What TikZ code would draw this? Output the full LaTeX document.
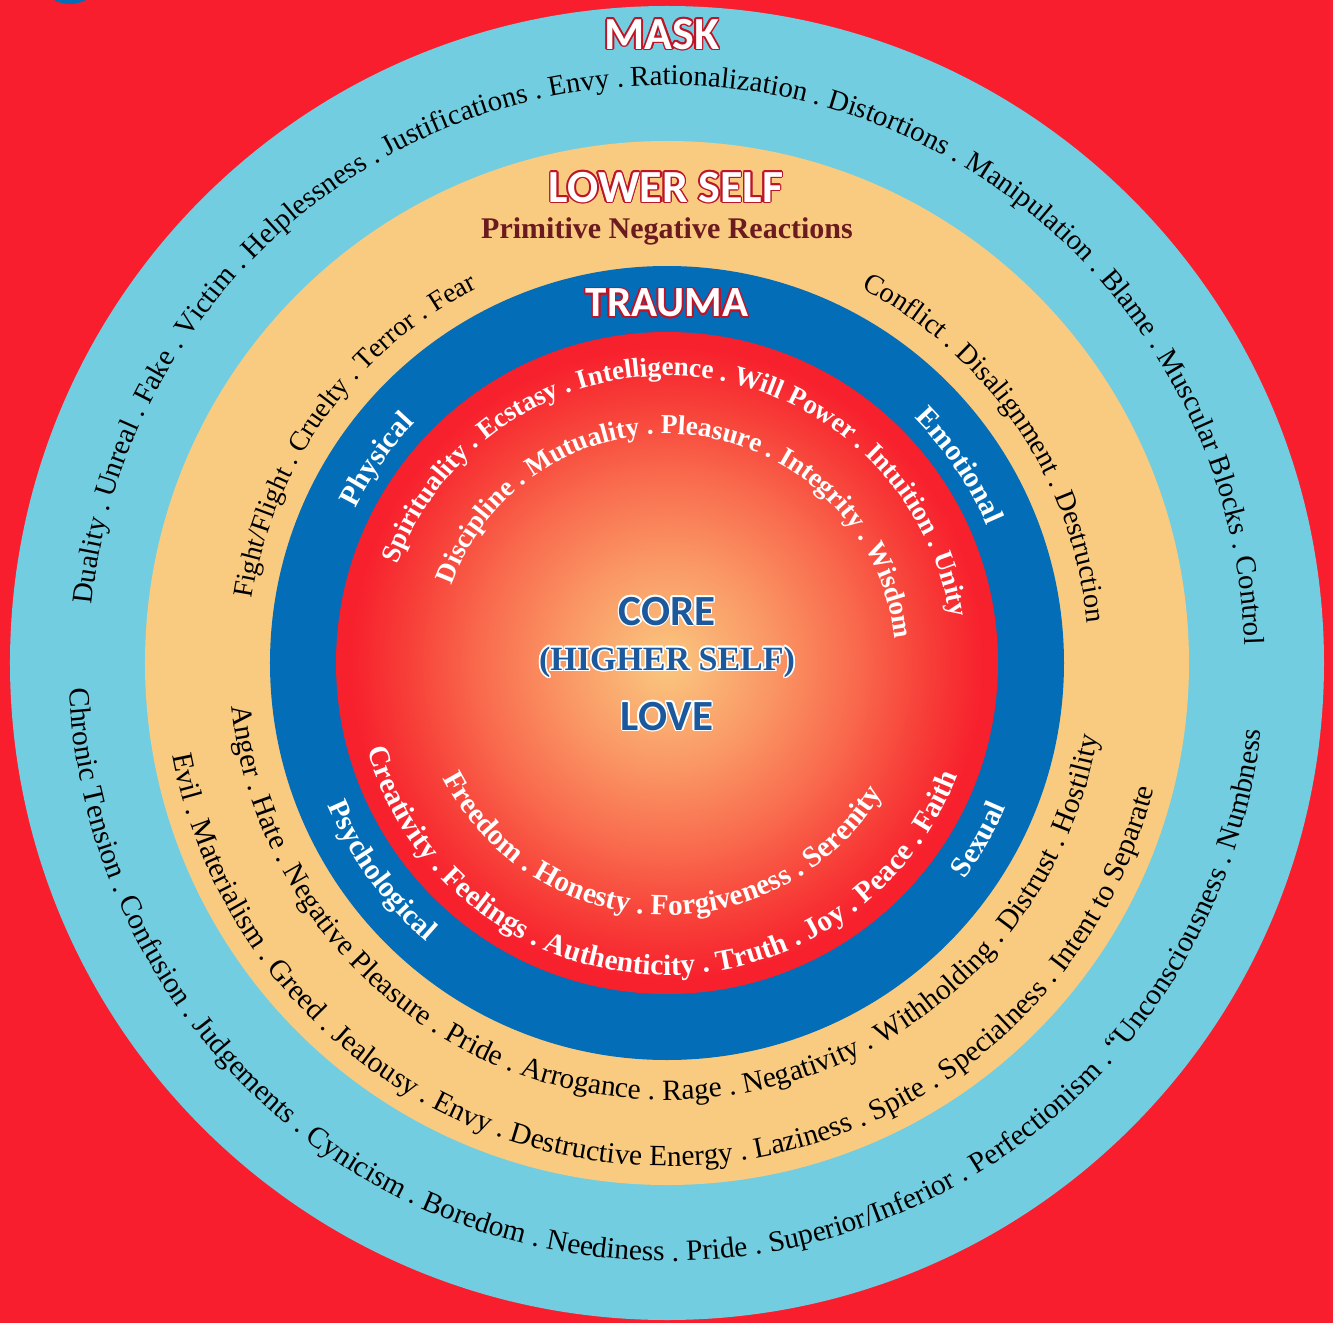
\documentclass[tikz,border=0pt]{standalone}
\usepackage{fontspec}
\setmainfont{Liberation Serif}
\newfontfamily\titlefont{Carlito}
\usepackage{contour}
\contourlength{0.8pt}
\contournumber{12}
\usetikzlibrary{decorations.text}

\definecolor{bgred}{RGB}{248,30,45}
\definecolor{maskblue}{RGB}{114,205,224}
\definecolor{lowertan}{RGB}{249,203,128}
\definecolor{traumablue}{RGB}{3,109,183}
\definecolor{coreinner}{RGB}{250,200,128}
\definecolor{corewarm}{RGB}{250,150,100}
\definecolor{coremid}{RGB}{249,108,78}
\definecolor{corehot}{RGB}{247,60,55}
\definecolor{coreedge}{RGB}{247,32,45}
\definecolor{shadowred}{RGB}{190,20,40}
\definecolor{primitivered}{RGB}{107,26,31}
\definecolor{corenavy}{RGB}{28,88,156}

% the circle's radius is 25bp of the shading
\pgfdeclareradialshading{coreglow}{\pgfpoint{0bp}{0bp}}{color(0bp)=(coreinner); color(8bp)=(corewarm); color(14bp)=(coremid); color(20bp)=(corehot); color(24bp)=(coreedge); color(50bp)=(coreedge)}

\tikzset{
  ringtext/.style 2 args={decorate, decoration={text along path, text align=center, text={|\fontsize{#1}{16}\selectfont|#2}}},
  coretext/.style 2 args={decorate, decoration={text along path, text align=center, text color=white, text={|\bfseries\fontsize{#1}{16}\selectfont|#2}}},
  title/.style={text=white, font=\titlefont\bfseries\fontsize{23}{25}\selectfont},
  heart/.style={text=corenavy, font=\titlefont\bfseries\fontsize{21.5}{24}\selectfont}
}

\begin{document}
\begin{tikzpicture}[x=0.5pt, y=0.5pt]
  \path[use as bounding box, fill=bgred] (-667,-660) rectangle (666,663);
  \fill[traumablue] (-597,693) circle[radius=34];

  % rings
  \coordinate (core) at (0,0);
  \fill[maskblue] (core) circle[radius=657];
  \fill[lowertan] (core) circle[radius=522];
  \fill[traumablue] (core) circle[radius=397];
  \shade[shading=coreglow] (core) circle[radius=331];

  % mask
  \node[title] (mask) at (-5,628) {\contour{shadowred}{MASK}};
  \path[ringtext={14.4}{Duality . Unreal . Fake . Victim . Helplessness . Justifications . Envy . Rationalization . Distortions . Manipulation . Blame . Muscular Blocks . Control}]
    (183:578) arc[start angle=183, end angle=-7, radius=578];
  \path[ringtext={14.7}{Chronic Tension . Confusion . Judgements . Cynicism . Boredom . Neediness . Pride . Superior/Inferior . Perfectionism . “Unconsciousness . Numbness}]
    (173:598) arc[start angle=173, end angle=363, radius=598];

  % lower self
  \node[title] (lower) at (-1,475) {\contour{shadowred}{LOWER SELF}};
  \node[text=primitivered, font=\bfseries\fontsize{15}{17}\selectfont] (reactions) at (0,432) {Primitive Negative Reactions};
  \path[ringtext={13.9}{Fight/Flight . Cruelty . Terror . Fear}]
    (194:420) arc[start angle=194, end angle=94, radius=420];
  \path[ringtext={14.2}{Conflict . Disalignment . Destruction}]
    (84:422) arc[start angle=84, end angle=-16, radius=422];
  \path[ringtext={14.7}{Anger . Hate . Negative Pleasure . Pride . Arrogance . Rage . Negativity . Withholding . Distrust . Hostility}]
    (173:437) arc[start angle=173, end angle=363, radius=437];
  \path[ringtext={14.7}{Evil . Materialism . Greed . Jealousy . Envy . Destructive Energy . Laziness . Spite . Specialness . Intent to Separate}]
    (173:503) arc[start angle=173, end angle=363, radius=503];

  % trauma
  \node[title, font=\titlefont\bfseries\fontsize{21.5}{24}\selectfont] (trauma) at (0,359) {\contour{shadowred}{TRAUMA}};
  \path[coretext={14.7}{Physical}] (175:348) arc[start angle=175, end angle=115, radius=348];
  \path[coretext={14.7}{Emotional}] (64:348) arc[start angle=64, end angle=4, radius=348];
  \path[coretext={14.7}{Psychological}] (186:368) arc[start angle=186, end angle=246, radius=368];
  \path[coretext={14.7}{Sexual}] (300:368) arc[start angle=300, end angle=361, radius=368];

  % core
  \path[coretext={13.6}{Spirituality . Ecstasy . Intelligence . Will Power . Intuition . Unity}]
    (179:287) arc[start angle=179, end angle=-10, radius=287];
  \path[coretext={13.7}{Discipline . Mutuality . Pleasure . Integrity . Wisdom}]
    (178:229) arc[start angle=178, end angle=-12, radius=229];
  \path[coretext={14.7}{Freedom . Honesty . Forgiveness . Serenity}]
    (173:252) arc[start angle=173, end angle=363, radius=252];
  \path[coretext={14.7}{Creativity . Feelings . Authenticity . Truth . Joy . Peace . Faith}]
    (172:312) arc[start angle=172, end angle=363, radius=312];
  \node[heart] (corename) at (0,51) {\contour{white}{CORE}};
  \node[text=corenavy, font=\bfseries\fontsize{17}{19}\selectfont] (higher) at (0,0) {\contour{white}{(HIGHER SELF)}};
  \node[heart] (love) at (0,-54) {\contour{white}{LOVE}};
\end{tikzpicture}
\end{document}
